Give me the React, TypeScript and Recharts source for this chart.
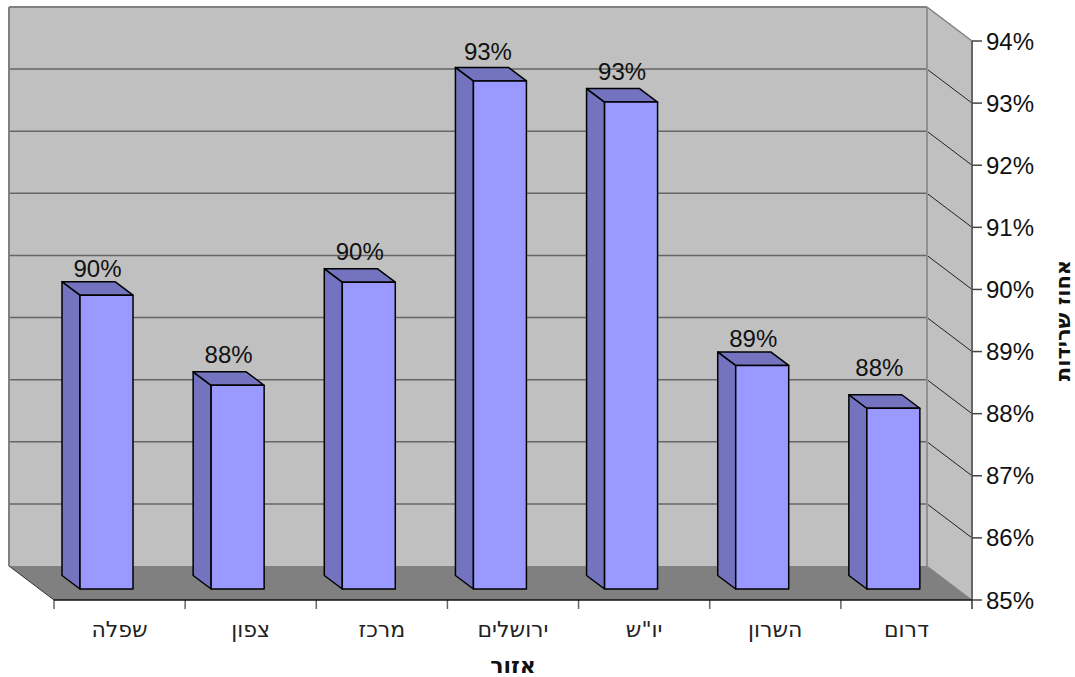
import { BarChart, Bar, XAxis, YAxis, LabelList, Customized, usePlotArea } from 'recharts';

const categories = ['שפלה', 'צפון', 'מרכז', 'ירושלים', 'יו"ש', 'השרון', 'דרום'];
const survival = [89.73, 88.28, 89.94, 93.18, 92.84, 88.6, 87.91];
const yTicks = [85, 86, 87, 88, 89, 90, 91, 92, 93, 94];

const chartData = categories.map((name, i) => ({ name, value: survival[i] }));

const FONT = '"Liberation Sans", Arial, sans-serif';
const HEB_FONT = '"DejaVu Sans", sans-serif';
// depth of the fake 3d box
const DX = 45;
const DY = 34;
// the bars stand part way into the box
const BAR_DX = 13;
const BAR_DY = 11;
const SIDE_DX = 18;
const SIDE_DY = 13.5;
// the labels in the original don't sit quite evenly over their bars
const labelNudge = [[0, 2], [0, -2], [0, -2], [-3, 0], [0, -2], [0, 2], [-5, -12]];

function Walls() {
  const plot = usePlotArea();
  if (!plot) return null;
  const { x, y, width, height } = plot;
  const right = x + width;
  const bottom = y + height;
  const tickY = (t: number) => bottom - ((t - yTicks[0]) / (yTicks[yTicks.length - 1] - yTicks[0])) * height;
  const band = width / categories.length;

  return (
    <g>
      <rect x={x - DX} y={y - DY} width={width} height={height} fill="#c0c0c0" />
      <polygon
        points={`${right - DX},${y - DY} ${right},${y} ${right},${bottom} ${right - DX},${bottom - DY}`}
        fill="#c0c0c0"
      />
      <polygon
        points={`${x - DX},${bottom - DY} ${right - DX},${bottom - DY} ${right},${bottom} ${x},${bottom}`}
        fill="#808080"
      />
      {yTicks.slice(1, -1).map((t) => (
        <g key={t}>
          <line x1={x - DX} x2={right - DX} y1={tickY(t) - DY} y2={tickY(t) - DY} stroke="#666666" strokeWidth={1.5} />
          <line x1={right - DX} x2={right} y1={tickY(t) - DY} y2={tickY(t)} stroke="#222222" strokeWidth={1} />
        </g>
      ))}
      <line x1={x - DX} x2={right - DX} y1={y - DY} y2={y - DY} stroke="#808080" strokeWidth={2} />
      <line x1={x - DX} x2={x - DX} y1={y - DY} y2={bottom - DY} stroke="#808080" strokeWidth={2} />
      <line x1={right - DX} x2={right - DX} y1={y - DY} y2={bottom - DY} stroke="#909090" strokeWidth={2} />
      <line x1={right - DX} x2={right} y1={y - DY} y2={y} stroke="#808080" strokeWidth={1.5} />
      <line x1={right - DX} x2={right} y1={bottom - DY} y2={bottom} stroke="#808080" strokeWidth={1} />
      <line x1={x - DX} x2={x} y1={bottom - DY} y2={bottom} stroke="#333333" strokeWidth={1} />
      {categories.map((_, i) => (
        <line key={i} x1={x + i * band} x2={x + i * band} y1={bottom} y2={bottom + 9} stroke="#666666" strokeWidth={1.5} />
      ))}
      <line x1={right} x2={right} y1={y} y2={bottom + 9} stroke="#666666" strokeWidth={2} />
      <line x1={x} x2={right} y1={bottom} y2={bottom} stroke="#111111" strokeWidth={1.5} />
    </g>
  );
}

function Bar3D(props: any) {
  const { x, y, width, height } = props;
  const fx = x - BAR_DX;
  const fy = y - BAR_DY;
  const bx = fx - SIDE_DX;
  const by = fy - SIDE_DY;
  const line = { stroke: '#000000', strokeWidth: 1.5, strokeLinejoin: 'round' as const };
  return (
    <g>
      <polygon points={`${bx},${by} ${fx},${fy} ${fx},${fy + height} ${bx},${by + height}`} fill="#7373bf" {...line} />
      <polygon points={`${bx},${by} ${bx + width},${by} ${fx + width},${fy} ${fx},${fy}`} fill="#7373bf" {...line} />
      <rect x={fx} y={fy} width={width} height={height} fill="#9999ff" {...line} />
    </g>
  );
}

function BarLabel(props: any) {
  const { x, y, width, value, index } = props;
  const [nx, ny] = labelNudge[index] ?? [0, 0];
  return (
    <text
      x={x - BAR_DX - SIDE_DX / 2 + width / 2 + nx}
      y={y - BAR_DY - SIDE_DY - 7 + ny}
      textAnchor="middle"
      fontFamily={FONT}
      fontSize={24}
      fill="#111111"
    >
      {Math.round(value)}%
    </text>
  );
}

export default function App() {
  return (
    <div style={{ position: 'absolute', left: 0, top: 0, width: 1075, height: 677, background: '#fff' }}>
      <BarChart
        width={1075}
        height={677}
        data={chartData}
        margin={{ top: 41, right: 0, left: 54, bottom: 0 }}
        barSize={53}
      >
        <Customized component={<Walls />} />
        <XAxis
          dataKey="name"
          height={77}
          axisLine={false}
          tickLine={false}
          tickMargin={15}
          tick={{ fontSize: 22, fill: '#222222', fontFamily: HEB_FONT }}
          label={{
            value: 'אזור',
            position: 'insideBottom',
            offset: 4,
            style: { fontSize: 22, fontWeight: 700, fill: '#111111', fontFamily: HEB_FONT },
          }}
        />
        <YAxis
          orientation="right"
          width={103}
          domain={[85, 94]}
          ticks={yTicks}
          interval={0}
          axisLine={false}
          tickSize={10}
          tickMargin={4}
          tickLine={{ stroke: '#444444', strokeWidth: 1.5 }}
          tickFormatter={(v: number) => `${v}%`}
          tick={{ fontSize: 24, fill: '#111111', fontFamily: FONT }}
          label={{
            value: 'אחוז שרידות',
            angle: -90,
            position: 'insideRight',
            offset: 12,
            style: { fontSize: 21, fontWeight: 700, fill: '#111111', fontFamily: HEB_FONT, textAnchor: 'middle' },
          }}
        />
        <Bar dataKey="value" shape={<Bar3D />} isAnimationActive={false}>
          <LabelList dataKey="value" content={<BarLabel />} />
        </Bar>
      </BarChart>
    </div>
  );
}
